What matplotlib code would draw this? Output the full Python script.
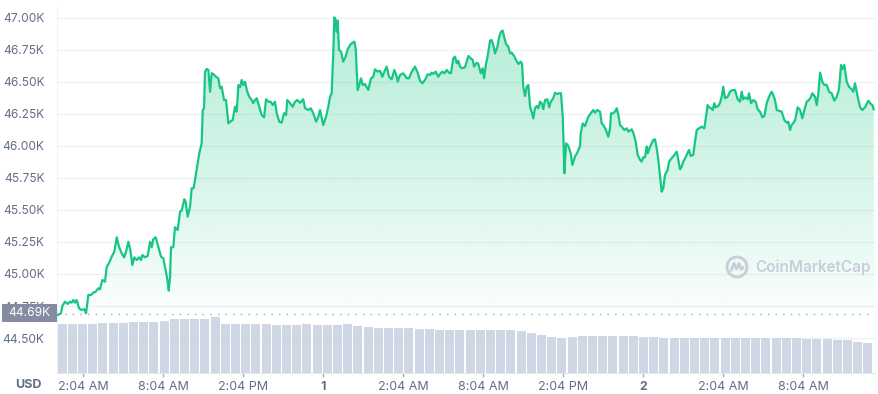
import numpy as np
import matplotlib as mpl
mpl.use('Agg')
import matplotlib.pyplot as plt
from matplotlib.patches import Rectangle, Circle


# price trace, hours from chart start and price in thousands of USD
hours = [0.05, 0.30, 0.40, 0.60, 0.80, 0.98, 1.10, 1.22, 1.35, 1.48, 1.65, 1.85, 2.05, 2.18, 2.35, 2.55,
         2.72, 2.90, 3.10, 3.22, 3.40, 3.60, 3.73, 3.90, 4.10, 4.30, 4.48, 4.65, 4.85, 5.03, 5.18, 5.35,
         5.50, 5.65, 5.80, 5.98, 6.15, 6.30, 6.40, 6.60, 6.80, 6.98, 7.10, 7.22, 7.40, 7.60, 7.80, 7.97,
         8.15, 8.30, 8.38, 8.48, 8.55, 8.72, 8.85, 9.05, 9.23, 9.35, 9.55, 9.65, 9.80, 9.98, 10.10, 10.25,
         10.67, 10.85, 10.93, 11.03, 11.10, 11.23, 11.35, 11.48, 11.60, 11.72, 11.92, 12.10, 12.23, 12.35,
         12.53, 12.68, 12.85, 12.98, 13.18, 13.35, 13.48, 13.60, 13.73, 13.85, 13.97, 14.10, 14.27, 14.42,
         14.60, 14.72, 14.85, 14.98, 15.17, 15.35, 15.53, 15.68, 15.85, 16.03, 16.18, 16.35, 16.48, 16.67,
         16.85, 17.03, 17.18, 17.27, 17.48, 17.68, 17.85, 18.02, 18.23, 18.47, 18.60, 18.85, 19.03, 19.22,
         19.43, 19.60, 19.73, 19.97, 20.18, 20.35, 20.48, 20.60, 20.72, 20.80, 20.90, 20.98, 21.05, 21.15,
         21.30, 21.47, 21.65, 21.80, 21.98, 22.10, 22.30, 22.40, 22.55, 22.67, 22.80, 22.93, 23.10, 23.23,
         23.35, 23.55, 23.72, 23.85, 24.05, 24.23, 24.40, 24.55, 24.73, 24.90, 25.10, 25.30, 25.48, 25.55,
         25.73, 25.97, 26.23, 26.40, 26.55, 26.72, 26.85, 27.05, 27.23, 27.40, 27.60, 27.80, 27.98, 28.10,
         28.22, 28.40, 28.60, 28.73, 28.90, 29.05, 29.23, 29.40, 29.55, 29.72, 29.85, 29.98, 30.10, 30.23,
         30.35, 30.60, 30.85, 31.03, 31.18, 31.28, 31.48, 31.60, 31.78, 31.93, 32.03, 32.18, 32.27, 32.48,
         32.60, 32.72, 32.85, 33.02, 33.17, 33.30, 33.43, 33.53, 33.68, 33.85, 33.98, 34.10, 34.28, 34.43,
         34.60, 34.78, 34.88, 34.97, 35.10, 35.23, 35.35, 35.48, 35.60, 35.72, 35.85, 35.98, 36.10, 36.23,
         36.35, 36.47, 36.60, 36.77, 36.92, 37.03, 37.22, 37.35, 37.52, 37.67, 37.80, 37.93, 38.00, 38.05,
         38.18, 38.35, 38.53, 38.65, 38.85, 39.02, 39.23, 39.28, 39.43, 39.60, 39.85, 40.03, 40.22, 40.35,
         40.52, 40.73, 40.85, 40.97, 41.15, 41.35, 41.48, 41.55, 41.72, 41.90, 41.98, 42.10, 42.23, 42.35,
         42.55, 42.73, 42.85, 43.10, 43.22, 43.40, 43.55, 43.73, 43.85, 43.97, 44.10, 44.23, 44.30, 44.48,
         44.60, 44.72, 44.85, 44.98, 45.10, 45.23, 45.35, 45.47, 45.60, 45.80, 45.90, 46.10, 46.30, 46.48,
         46.60, 46.73, 46.85, 46.97, 47.15, 47.30, 47.40, 47.53, 47.72, 47.85, 47.98, 48.15, 48.35, 48.55,
         48.73, 48.80, 48.90, 49.05, 49.18, 49.30, 49.40, 49.60, 49.73, 49.85, 49.97, 50.10, 50.30, 50.48,
         50.65, 50.85, 51.05, 51.23, 51.35, 51.47, 51.60, 51.80, 51.90, 52.05, 52.22, 52.40, 52.55, 52.73,
         52.90, 53.05, 53.23, 53.40, 53.60, 53.72, 53.85, 53.98, 54.10, 54.35, 54.55, 54.73, 54.85, 54.98,
         55.10, 55.35, 55.55, 55.73, 55.90, 56.05, 56.23, 56.40, 56.55, 56.65, 56.85, 56.98, 57.10, 57.23,
         57.40, 57.55, 57.73, 57.90, 58.10, 58.30, 58.48, 58.65, 58.80, 58.90, 59.05, 59.23, 59.40, 59.60,
         59.72, 59.85, 60.05, 60.23, 60.40, 60.60, 60.73, 60.85, 60.98, 61.15, 61.25]

price_k = [44.680, 44.693, 44.750, 44.784, 44.766, 44.784, 44.776, 44.797, 44.776, 44.797, 44.732, 44.719,
           44.725, 44.693, 44.836, 44.836, 44.854, 44.862, 44.888, 44.881, 44.953, 44.940, 45.057, 45.084,
           45.135, 45.174, 45.287, 45.213, 45.162, 45.130, 45.174, 45.252, 45.188, 45.070, 45.130, 45.109,
           45.130, 45.109, 45.148, 45.130, 45.141, 45.252, 45.209, 45.271, 45.287, 45.213, 45.135, 45.123,
           45.031, 44.940, 44.870, 44.979, 45.209, 45.209, 45.365, 45.344, 45.487, 45.495, 45.584, 45.565,
           45.448, 45.526, 45.670, 45.670, 45.943, 46.021, 46.281, 46.295, 46.581, 46.602, 46.594, 46.424,
           46.568, 46.563, 46.541, 46.529, 46.451, 46.463, 46.359, 46.359, 46.177, 46.190, 46.203, 46.307,
           46.268, 46.476, 46.459, 46.516, 46.476, 46.502, 46.424, 46.385, 46.359, 46.334, 46.359, 46.373,
           46.307, 46.242, 46.224, 46.365, 46.346, 46.346, 46.320, 46.346, 46.256, 46.190, 46.182, 46.256,
           46.242, 46.359, 46.334, 46.307, 46.346, 46.359, 46.338, 46.365, 46.295, 46.281, 46.295, 46.256,
           46.190, 46.229, 46.281, 46.164, 46.229, 46.307, 46.385, 46.412, 46.724, 47.005, 46.984, 46.893,
           46.979, 46.750, 46.737, 46.659, 46.698, 46.755, 46.789, 46.802, 46.815, 46.763, 46.438, 46.477,
           46.529, 46.477, 46.484, 46.459, 46.438, 46.529, 46.541, 46.599, 46.581, 46.588, 46.541, 46.581,
           46.620, 46.541, 46.521, 46.594, 46.541, 46.502, 46.555, 46.568, 46.529, 46.529, 46.568, 46.599,
           46.620, 46.573, 46.510, 46.490, 46.516, 46.560, 46.555, 46.573, 46.563, 46.581, 46.541, 46.563,
           46.581, 46.568, 46.594, 46.573, 46.568, 46.685, 46.698, 46.646, 46.666, 46.620, 46.607, 46.615,
           46.703, 46.685, 46.672, 46.620, 46.651, 46.641, 46.568, 46.607, 46.529, 46.646, 46.685, 46.823,
           46.828, 46.789, 46.724, 46.771, 46.854, 46.893, 46.901, 46.854, 46.797, 46.776, 46.724, 46.729,
           46.703, 46.672, 46.641, 46.659, 46.641, 46.463, 46.391, 46.463, 46.477, 46.307, 46.268, 46.216,
           46.295, 46.313, 46.295, 46.346, 46.334, 46.287, 46.359, 46.365, 46.302, 46.346, 46.373, 46.416,
           46.406, 46.412, 46.412, 46.229, 45.995, 45.787, 46.021, 46.000, 45.943, 45.852, 45.917, 45.948,
           46.000, 46.099, 46.177, 46.156, 46.229, 46.255, 46.281, 46.260, 46.281, 46.268, 46.177, 46.164,
           46.130, 46.073, 46.138, 46.255, 46.255, 46.276, 46.295, 46.242, 46.164, 46.151, 46.125, 46.138,
           46.112, 46.130, 46.104, 46.034, 45.930, 45.891, 45.878, 45.912, 45.912, 45.995, 45.943, 45.995,
           46.021, 46.047, 46.052, 45.982, 45.891, 45.760, 45.643, 45.670, 45.774, 45.813, 45.878, 45.904,
           45.930, 45.956, 45.891, 45.818, 45.839, 45.878, 45.912, 45.948, 45.969, 45.922, 45.930, 46.034,
           46.125, 46.138, 46.151, 46.138, 46.268, 46.320, 46.302, 46.295, 46.281, 46.334, 46.302, 46.313,
           46.338, 46.385, 46.463, 46.373, 46.385, 46.424, 46.437, 46.437, 46.365, 46.346, 46.424, 46.365,
           46.380, 46.365, 46.412, 46.334, 46.359, 46.346, 46.287, 46.268, 46.224, 46.234, 46.334, 46.385,
           46.424, 46.398, 46.359, 46.281, 46.276, 46.268, 46.203, 46.182, 46.190, 46.125, 46.164, 46.198,
           46.302, 46.281, 46.216, 46.281, 46.346, 46.359, 46.385, 46.412, 46.385, 46.320, 46.412, 46.573,
           46.502, 46.477, 46.477, 46.424, 46.412, 46.354, 46.385, 46.443, 46.633, 46.599, 46.633, 46.502,
           46.463, 46.443, 46.424, 46.490, 46.385, 46.302, 46.281, 46.302, 46.328, 46.354, 46.334, 46.320,
           46.287]

# volume bars (billions USD), one per slot of bar_hours
volume_b = [24.5, 24.5, 24.5, 24.75, 25.0, 25.15, 25.25, 25.65, 25.65, 25.75, 26.15, 27.0, 27.0, 27.0,
            27.25, 28.0, 24.5, 24.5, 24.5, 24.5, 24.5, 24.25, 24.0, 24.0, 24.35, 24.25, 24.0, 24.25, 24.5,
            23.5, 23.15, 22.5, 22.5, 22.5, 22.5, 22.25, 22.0, 21.5, 21.5, 21.5, 21.5, 21.5, 21.5, 21.5,
            21.5, 21.0, 20.15, 19.25, 18.25, 17.65, 18.0, 18.5, 18.5, 18.5, 18.5, 18.5, 18.5, 18.25, 18.15,
            17.5, 17.5, 17.5, 17.5, 17.5, 17.5, 17.75, 17.75, 17.5, 17.5, 17.5, 17.5, 17.5, 17.5, 17.0,
            16.85, 16.85, 16.5, 16.5, 15.5, 14.85]
bar_hours = 0.765

open_price = 44.69
tick_hours = [1.95, 7.95, 13.95, 19.95, 25.95, 31.95, 37.95, 43.95, 49.95, 55.95]
tick_labels = ["2:04 AM", "8:04 AM", "2:04 PM", "1", "2:04 AM", "8:04 AM", "2:04 PM", "2",
               "2:04 AM", "8:04 AM"]
y_ticks = [44.50, 44.75, 45.00, 45.25, 45.50, 45.75, 46.00, 46.25, 46.50, 46.75, 47.00]

GREEN = "#16c784"
TXT = "#616e85"
GRID = "#eff2f5"

plt.rcParams['font.family'] = ['Inter', 'DejaVu Sans']

W, H = 879, 394
fig = plt.figure(figsize=(W / 100, H / 100), dpi=100)
ax = fig.add_axes([57 / W, 21 / H, 818 / W, 365 / H])

x = np.array(hours)
y = np.array(price_k)
x_max = 61.35
y_lo, y_hi = 44.2266, 47.078

# gradient fill under the line
poly = ax.fill_between(x, y, open_price, color='none', lw=0)
t = np.linspace(0, 1, 256).reshape(-1, 1)
grad = np.zeros((256, 1, 4))
grad[..., 0] = 22 / 255
grad[..., 1] = 199 / 255
grad[..., 2] = 132 / 255
grad[..., 3] = 0.01 + 0.31 * t ** 0.85
img = ax.imshow(grad, aspect='auto', origin='lower',
                extent=[0, x_max, open_price, y.max()], zorder=1)
img.set_clip_path(poly.get_paths()[0], transform=ax.transData)

ax.plot(x, y, color=GREEN, lw=1.6, zorder=3, solid_joinstyle='round')
ax.axhline(open_price, color='#a5acb9', lw=1, ls=(0, (1, 4.5)), zorder=2)

ax.set_xlim(0, x_max)
ax.set_ylim(y_lo, y_hi)
ax.set_yticks(y_ticks)
ax.set_yticklabels([f"{v:.2f}K" for v in y_ticks])
ax.grid(axis='y', color=GRID, lw=1)
ax.set_axisbelow(True)
ax.set_xticks(tick_hours)
ax.set_xticklabels(tick_labels)
for lab in ax.get_xticklabels():
    if lab.get_text() in ("1", "2"):
        lab.set_fontweight('bold')
ax.tick_params(axis='y', length=0, pad=9, labelsize=8.6, labelcolor=TXT)
ax.tick_params(axis='x', length=3, width=1, color='#a5acb9', pad=3, labelsize=9, labelcolor=TXT)
for s in ('top', 'right'):
    ax.spines[s].set_visible(False)
ax.spines['left'].set_color('#eff2f5')
ax.spines['bottom'].set_color('#e3e6ec')

# volume on its own scale
axv = ax.twinx()
bx = (np.arange(len(volume_b)) + 0.5) * bar_hours
axv.bar(bx, volume_b, width=bar_hours * 0.87, color='#cfd6e4', lw=0, zorder=2)
axv.set_ylim(0, 182.5)
axv.set_xlim(0, x_max)
axv.axis('off')

# open price tag
fig.add_artist(Rectangle((2 / W, 1 - 322 / H), 55 / W, 18 / H, transform=fig.transFigure,
                         facecolor='#858ca2', edgecolor='none'))
fig.text(29.5 / W, 1 - 313 / H, "44.69K", color='white', fontsize=8.6, ha='center', va='center')

fig.text(28 / W, 1 - 385 / H, "USD", color=TXT, fontsize=9, fontweight='bold', ha='center', va='center')

# watermark
lax = fig.add_axes([725 / W, 1 - 279 / H, 24 / W, 24 / H])
lax.set_xlim(-1.2, 1.2)
lax.set_ylim(-1.2, 1.2)
lax.axis('off')
lax.add_patch(Circle((0, 0), 1.0, fill=False, ec='#c8cdd7', lw=2))
lax.plot([-0.6, -0.3, -0.05, 0.2, 0.42, 0.62], [-0.35, 0.35, -0.2, 0.35, -0.25, -0.05],
         color='#c8cdd7', lw=2, solid_joinstyle='round', solid_capstyle='round')
fig.text(755 / W, 1 - 267 / H, "CoinMarketCap", color='#c8cdd7', fontsize=11, fontweight='semibold',
         ha='left', va='center')

fig.savefig("out.png", dpi=100)
